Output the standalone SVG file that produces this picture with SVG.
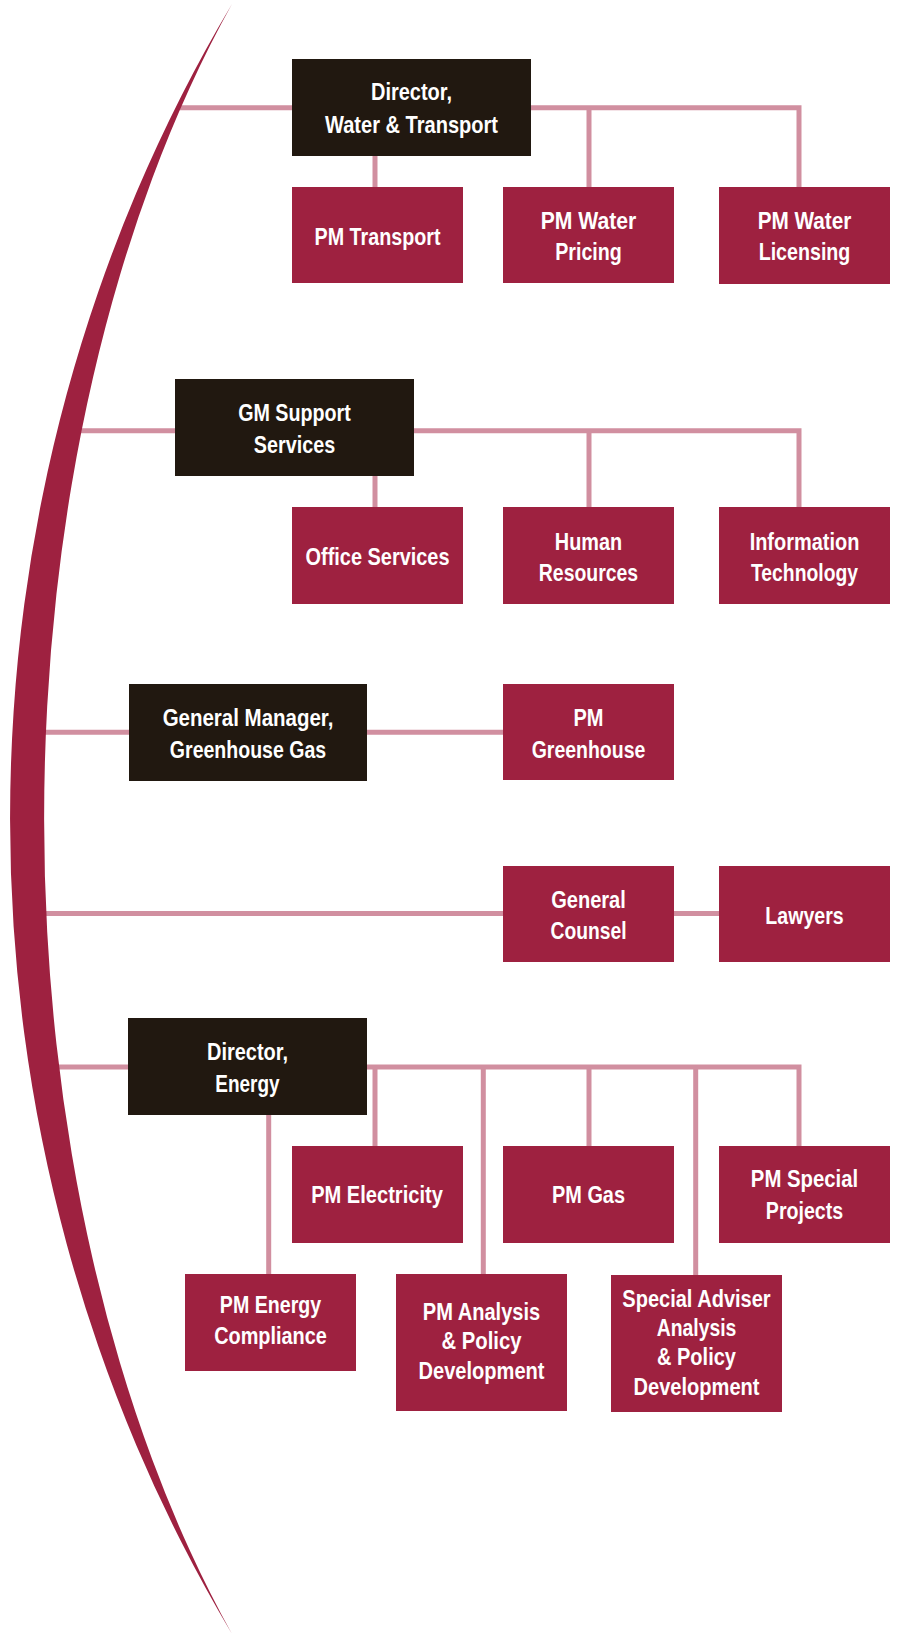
<svg xmlns="http://www.w3.org/2000/svg" width="898" height="1635" viewBox="0 0 898 1635">
<style>
.lead{fill:#211810}
.unit{fill:#9e2140}
.t{font-family:"Liberation Sans",Arial,sans-serif;font-weight:bold;font-size:24px;fill:#ffffff;text-anchor:middle}
.c{fill:none;stroke:#d18fa0;stroke-width:5;stroke-linejoin:miter}
</style>
<rect width="898" height="1635" fill="#ffffff"/>
<g id="connectors">
<path class="c" d="M178,107.8 H292 M531,107.8 H799 V187 M589,107.8 V187 M375,155 V187"/>
<path class="c" d="M65,430.7 H175 M414,430.7 H799 V507 M589,430.7 V507 M375,476 V507"/>
<path class="c" d="M30,732.3 H129 M367,732.3 H503"/>
<path class="c" d="M30,913.5 H503 M673,913.5 H719"/>
<path class="c" d="M45,1067 H128 M367,1067 H799 V1146 M375,1067 V1146 M483.3,1067 V1274 M589,1067 V1146 M695.7,1067 V1275 M268.7,1115 V1274"/>
</g>
<g id="arc">
<path d="M232,4 A1383,1500 0 0 0 232,1634 A638,1150 0 0 1 232,4 Z" fill="#9e2140"/>
</g>
<g id="dir_water_transport">
<rect class="lead" x="292" y="59" width="239" height="97"/>
<text class="t" x="411.5" y="100" textLength="81" lengthAdjust="spacingAndGlyphs">Director,</text>
<text class="t" x="411.5" y="132.7" textLength="173" lengthAdjust="spacingAndGlyphs">Water &amp; Transport</text>
</g>
<g id="pm_transport">
<rect class="unit" x="292" y="187" width="171" height="96"/>
<text class="t" x="377.5" y="245" textLength="126" lengthAdjust="spacingAndGlyphs">PM Transport</text>
</g>
<g id="pm_water_pricing">
<rect class="unit" x="503" y="187" width="171" height="96"/>
<text class="t" x="588.5" y="229.3" textLength="95.7" lengthAdjust="spacingAndGlyphs">PM Water</text>
<text class="t" x="588.5" y="260" textLength="66.7" lengthAdjust="spacingAndGlyphs">Pricing</text>
</g>
<g id="pm_water_licensing">
<rect class="unit" x="719" y="187" width="171" height="97"/>
<text class="t" x="804.5" y="229.3" textLength="93.7" lengthAdjust="spacingAndGlyphs">PM Water</text>
<text class="t" x="804.5" y="260" textLength="91.7" lengthAdjust="spacingAndGlyphs">Licensing</text>
</g>
<g id="gm_support_services">
<rect class="lead" x="175" y="379" width="239" height="97"/>
<text class="t" x="294.5" y="421" textLength="112.7" lengthAdjust="spacingAndGlyphs">GM Support</text>
<text class="t" x="294.5" y="452.7" textLength="81.3" lengthAdjust="spacingAndGlyphs">Services</text>
</g>
<g id="office_services">
<rect class="unit" x="292" y="507" width="171" height="97"/>
<text class="t" x="377.5" y="564.7" textLength="144" lengthAdjust="spacingAndGlyphs">Office Services</text>
</g>
<g id="human_resources">
<rect class="unit" x="503" y="507" width="171" height="97"/>
<text class="t" x="588.5" y="549.5" textLength="67.3" lengthAdjust="spacingAndGlyphs">Human</text>
<text class="t" x="588.5" y="581" textLength="99.3" lengthAdjust="spacingAndGlyphs">Resources</text>
</g>
<g id="information_technology">
<rect class="unit" x="719" y="507" width="171" height="97"/>
<text class="t" x="804.5" y="549.5" textLength="109.7" lengthAdjust="spacingAndGlyphs">Information</text>
<text class="t" x="804.5" y="581" textLength="107" lengthAdjust="spacingAndGlyphs">Technology</text>
</g>
<g id="gm_greenhouse_gas">
<rect class="lead" x="129" y="684" width="238" height="97"/>
<text class="t" x="248" y="726" textLength="170.7" lengthAdjust="spacingAndGlyphs">General Manager,</text>
<text class="t" x="248" y="757.7" textLength="156.3" lengthAdjust="spacingAndGlyphs">Greenhouse Gas</text>
</g>
<g id="pm_greenhouse">
<rect class="unit" x="503" y="684" width="171" height="96"/>
<text class="t" x="588.5" y="726" textLength="30" lengthAdjust="spacingAndGlyphs">PM</text>
<text class="t" x="588.5" y="757.5" textLength="113.7" lengthAdjust="spacingAndGlyphs">Greenhouse</text>
</g>
<g id="general_counsel">
<rect class="unit" x="503" y="866" width="171" height="96"/>
<text class="t" x="588.5" y="907.5" textLength="74.7" lengthAdjust="spacingAndGlyphs">General</text>
<text class="t" x="588.5" y="939" textLength="76" lengthAdjust="spacingAndGlyphs">Counsel</text>
</g>
<g id="lawyers">
<rect class="unit" x="719" y="866" width="171" height="96"/>
<text class="t" x="804.5" y="923.5" textLength="78.3" lengthAdjust="spacingAndGlyphs">Lawyers</text>
</g>
<g id="dir_energy">
<rect class="lead" x="128" y="1018" width="239" height="97"/>
<text class="t" x="247.5" y="1060" textLength="81" lengthAdjust="spacingAndGlyphs">Director,</text>
<text class="t" x="247.5" y="1091.7" textLength="64.3" lengthAdjust="spacingAndGlyphs">Energy</text>
</g>
<g id="pm_electricity">
<rect class="unit" x="292" y="1146" width="171" height="97"/>
<text class="t" x="377" y="1203.3" textLength="131.7" lengthAdjust="spacingAndGlyphs">PM Electricity</text>
</g>
<g id="pm_gas">
<rect class="unit" x="503" y="1146" width="171" height="97"/>
<text class="t" x="588.5" y="1203.3" textLength="73" lengthAdjust="spacingAndGlyphs">PM Gas</text>
</g>
<g id="pm_special_projects">
<rect class="unit" x="719" y="1146" width="171" height="97"/>
<text class="t" x="804.5" y="1187.3" textLength="107.3" lengthAdjust="spacingAndGlyphs">PM Special</text>
<text class="t" x="804.5" y="1218.7" textLength="77.3" lengthAdjust="spacingAndGlyphs">Projects</text>
</g>
<g id="pm_energy_compliance">
<rect class="unit" x="185" y="1274" width="171" height="97"/>
<text class="t" x="270.5" y="1313" textLength="101.3" lengthAdjust="spacingAndGlyphs">PM Energy</text>
<text class="t" x="270.5" y="1344.3" textLength="112.7" lengthAdjust="spacingAndGlyphs">Compliance</text>
</g>
<g id="pm_analysis_policy">
<rect class="unit" x="396" y="1274" width="171" height="137"/>
<text class="t" x="481.5" y="1320" textLength="117.4" lengthAdjust="spacingAndGlyphs">PM Analysis</text>
<text class="t" x="481.5" y="1349.3" textLength="80" lengthAdjust="spacingAndGlyphs">&amp; Policy</text>
<text class="t" x="481.5" y="1379" textLength="126" lengthAdjust="spacingAndGlyphs">Development</text>
</g>
<g id="special_adviser">
<rect class="unit" x="611" y="1275" width="171" height="137"/>
<text class="t" x="696.5" y="1306.7" textLength="148.3" lengthAdjust="spacingAndGlyphs">Special Adviser</text>
<text class="t" x="696.5" y="1335.7" textLength="79.7" lengthAdjust="spacingAndGlyphs">Analysis</text>
<text class="t" x="696.5" y="1365" textLength="79" lengthAdjust="spacingAndGlyphs">&amp; Policy</text>
<text class="t" x="696.5" y="1395" textLength="126" lengthAdjust="spacingAndGlyphs">Development</text>
</g>
</svg>
